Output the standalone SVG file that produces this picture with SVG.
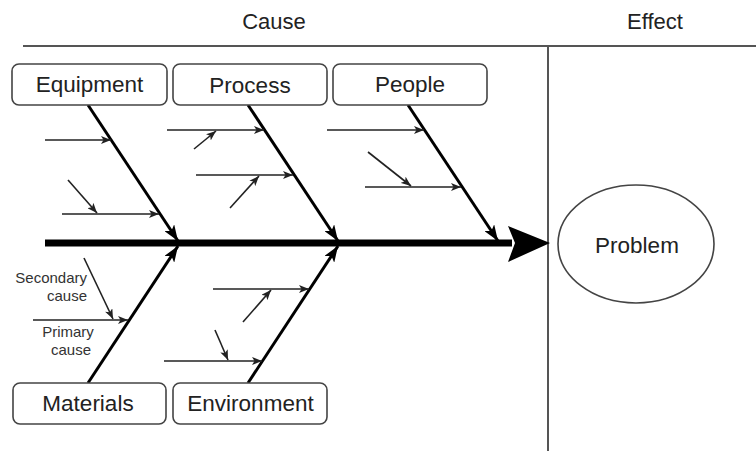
<svg xmlns="http://www.w3.org/2000/svg" width="756" height="451" viewBox="0 0 756 451">
  <style>
    .frame { stroke: #555; stroke-width: 2; fill: none; }
    .box { fill: #fff; stroke: #444; stroke-width: 1.6; }
    .label { font-family: "Liberation Sans", Arial, sans-serif; font-size: 22.5px; fill: #222; text-anchor: middle; }
    .head { font-family: "Liberation Sans", Arial, sans-serif; font-size: 22px; fill: #222; text-anchor: middle; }
    .note { font-family: "Liberation Sans", Arial, sans-serif; font-size: 15px; fill: #333; }
    .bone { stroke: #000; stroke-width: 3; fill: none; }
    .sub { stroke: #222; stroke-width: 1.6; fill: none; }
  </style>
  <defs>
    <marker id="boneHead" viewBox="0 0 16 12" refX="16" refY="6" markerWidth="16" markerHeight="12" markerUnits="userSpaceOnUse" orient="auto">
      <path d="M0,0 L16,6 L0,12 L4,6 Z" fill="#000"/>
    </marker>
    <marker id="subHead" viewBox="0 0 10 8" refX="10" refY="4" markerWidth="10" markerHeight="8" markerUnits="userSpaceOnUse" orient="auto">
      <path d="M0,0 L10,4 L0,8 L2.5,4 Z" fill="#222"/>
    </marker>
  </defs>

  <!-- header: cause / effect split -->
  <g id="header">
    <line class="frame" x1="23" y1="46" x2="756" y2="46"/>
    <line class="frame" x1="548" y1="46" x2="548" y2="451"/>
    <text class="head" x="274" y="29">Cause</text>
    <text class="head" x="655" y="29">Effect</text>
  </g>

  <!-- spine, bones and sub-cause arrows -->
  <g id="connectors">
    <line x1="45" y1="243" x2="512" y2="243" stroke="#000" stroke-width="7"/>
    <polygon points="508,226 550,243 508,262 515,243" fill="#000"/>

    <!-- main bones -->
    <line class="bone" x1="88" y1="105" x2="178" y2="241" marker-end="url(#boneHead)"/>
    <line class="bone" x1="248" y1="105" x2="338" y2="241" marker-end="url(#boneHead)"/>
    <line class="bone" x1="408" y1="105" x2="498" y2="241" marker-end="url(#boneHead)"/>
    <line class="bone" x1="88" y1="383" x2="178" y2="246" marker-end="url(#boneHead)"/>
    <line class="bone" x1="248" y1="383" x2="338" y2="246" marker-end="url(#boneHead)"/>

    <!-- Equipment causes -->
    <line class="sub" x1="45" y1="140" x2="111" y2="140" marker-end="url(#subHead)"/>
    <line class="sub" x1="62" y1="214" x2="159" y2="214" marker-end="url(#subHead)"/>
    <line class="sub" x1="68" y1="180" x2="97" y2="213" marker-end="url(#subHead)"/>

    <!-- Process causes -->
    <line class="sub" x1="167" y1="130" x2="264" y2="130" marker-end="url(#subHead)"/>
    <line class="sub" x1="194" y1="149" x2="216" y2="131" marker-end="url(#subHead)"/>
    <line class="sub" x1="196" y1="175" x2="293" y2="175" marker-end="url(#subHead)"/>
    <line class="sub" x1="230" y1="208" x2="259" y2="176" marker-end="url(#subHead)"/>

    <!-- People causes -->
    <line class="sub" x1="327" y1="130" x2="424" y2="130" marker-end="url(#subHead)"/>
    <line class="sub" x1="365" y1="187" x2="461" y2="187" marker-end="url(#subHead)"/>
    <line class="sub" x1="368" y1="152" x2="411" y2="186" marker-end="url(#subHead)"/>

    <!-- Materials causes -->
    <line class="sub" x1="33" y1="320" x2="128" y2="320" marker-end="url(#subHead)"/>
    <line class="sub" x1="84" y1="258" x2="113" y2="319" marker-end="url(#subHead)"/>

    <!-- Environment causes -->
    <line class="sub" x1="213" y1="289" x2="309" y2="289" marker-end="url(#subHead)"/>
    <line class="sub" x1="243" y1="322" x2="271" y2="290" marker-end="url(#subHead)"/>
    <line class="sub" x1="164" y1="361" x2="262" y2="361" marker-end="url(#subHead)"/>
    <line class="sub" x1="215" y1="330" x2="228" y2="360" marker-end="url(#subHead)"/>
  </g>

  <!-- cause category nodes -->
  <g id="equipment">
    <rect class="box" x="12" y="64" width="155" height="41" rx="7"/>
    <text class="label" x="89.5" y="92">Equipment</text>
  </g>
  <g id="process">
    <rect class="box" x="173" y="64" width="154" height="41" rx="7"/>
    <text class="label" x="250" y="93">Process</text>
  </g>
  <g id="people">
    <rect class="box" x="333" y="64" width="154" height="41" rx="7"/>
    <text class="label" x="410" y="92">People</text>
  </g>
  <g id="materials">
    <rect class="box" x="13" y="383" width="153" height="41" rx="7"/>
    <text class="label" x="88" y="411">Materials</text>
  </g>
  <g id="environment">
    <rect class="box" x="173" y="383" width="154" height="41" rx="7"/>
    <text class="label" x="250.5" y="411">Environment</text>
  </g>

  <!-- legend for sub-cause arrows -->
  <g id="legend">
    <text class="note" x="87" y="283" text-anchor="end">Secondary</text>
    <text class="note" x="87" y="301" text-anchor="end">cause</text>
    <text class="note" x="68" y="337" text-anchor="middle">Primary</text>
    <text class="note" x="71" y="355" text-anchor="middle">cause</text>
  </g>

  <!-- effect node -->
  <g id="problem">
    <ellipse cx="636" cy="244" rx="78" ry="59" fill="#fff" stroke="#444" stroke-width="1.6"/>
    <text class="label" x="637" y="253">Problem</text>
  </g>
</svg>
